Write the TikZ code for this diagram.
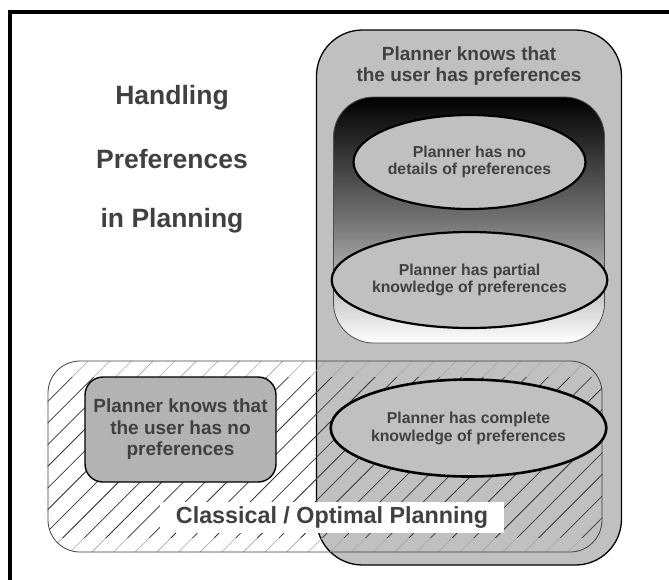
\documentclass[tikz,border=0pt]{standalone}
\usepackage{fontspec}
\setmainfont{Liberation Sans}
\usetikzlibrary{shapes.geometric,patterns.meta}
\definecolor{boxgray}{HTML}{C0C0C0}
\definecolor{txtgray}{HTML}{404040}
\tikzset{
  txt/.style={text=txtgray, font=\bfseries, align=center},
  bigbox/.style={draw=black, line width=1.3pt, fill=boxgray, rounded corners=46pt, inner sep=0pt},
  gradbox/.style={draw=black!70, line width=0.8pt, rounded corners=40pt, top color=black, bottom color=white, middle color=black!55, inner sep=0pt},
  oval/.style={ellipse, draw=black, line width=2.2pt, fill=boxgray, inner sep=0pt, txt},
  hatchlines/.style={pattern={Lines[angle=45,distance=15.3pt,line width=0.6pt]}},
  hatchbox/.style={draw=black!75, line width=0.8pt, rounded corners=32pt, inner sep=0pt,
    hatchlines, pattern color=black!35},
  smallbox/.style={draw=black, line width=1.4pt, fill=boxgray!93!black, rounded corners=18pt, inner sep=0pt, txt},
  labelbox/.style={fill=white, inner sep=0pt, txt}
}
\begin{document}
\begin{tikzpicture}[x=1pt,y=-1pt]
\useasboundingbox (0,0) rectangle (669,579);
\clip (0,0) rectangle (669,579);
% frame
\draw[line width=4.5pt] (10,600) -- (10,12) -- (700,12);
% title
\node[txt, font=\bfseries\fontsize{26.5}{30}\selectfont] (h1) at (172,98) {Handling};
\node[txt, font=\bfseries\fontsize{26.5}{30}\selectfont] (h2) at (172,159) {Preferences};
\node[txt, font=\bfseries\fontsize{26.5}{30}\selectfont] (h3) at (172,221) {in Planning};
% big gray box
\node[bigbox, minimum width=305pt, minimum height=535pt] (big) at (469,297.5) {};
\node[txt, font=\bfseries\fontsize{19}{21}\selectfont] (bigt) at (469,66) {Planner knows that\\the user has preferences};
% gradient box
\node[gradbox, minimum width=271pt, minimum height=246pt] (grad) at (469,220) {};
\node[oval, minimum width=232pt, minimum height=94pt, font=\bfseries\fontsize{15.8}{17}\selectfont] (e1) at (469.5,162) {Planner has no\\details of preferences};
\node[oval, minimum width=232pt, minimum height=96pt, font=\bfseries\fontsize{15.8}{17}\selectfont] (e2) at (469.5,280) {Planner has partial\\knowledge of preferences};
% hatched box
\node[hatchbox, minimum width=554pt, minimum height=191pt] (hatch) at (325,456.5) {};
\begin{scope}
  \clip (0,377) rectangle (669,537);
  \path[hatchlines, pattern color=black!85, rounded corners=32pt] (hatch.north west) rectangle (hatch.south east);
\end{scope}
\node[smallbox, minimum width=191pt, minimum height=105pt, font=\bfseries\fontsize{19}{21.5}\selectfont] (small) at (180.5,429.5) {Planner knows that\\the user has no\\preferences};
\node[oval, line width=2.6pt, minimum width=228pt, minimum height=97pt, font=\bfseries\fontsize{15.8}{18}\selectfont] (e3) at (468.5,428) {Planner has complete\\knowledge of preferences};
\node[labelbox, minimum width=344pt, minimum height=31pt, font=\bfseries\fontsize{23.3}{26}\selectfont] (lab) at (332,517.5) {Classical / Optimal Planning};
\end{tikzpicture}
\end{document}
